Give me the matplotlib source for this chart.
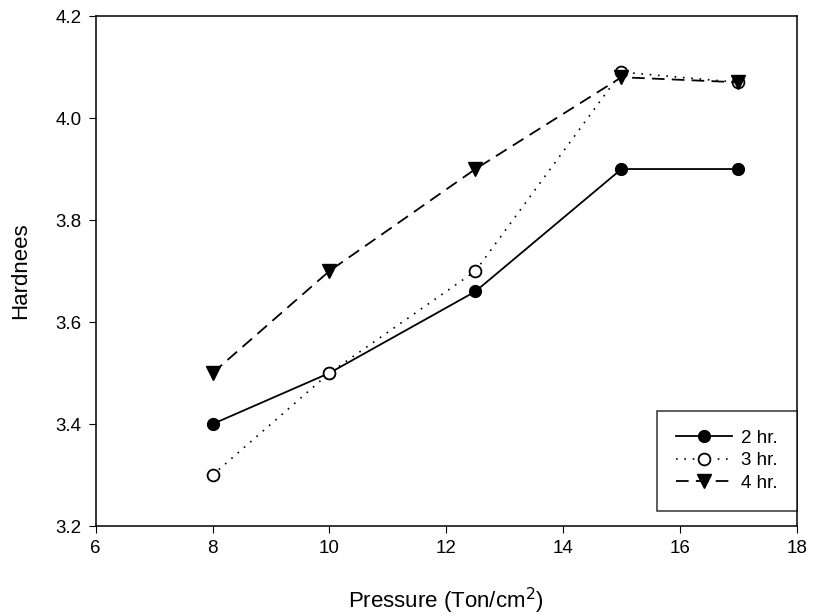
import matplotlib.pyplot as plt

plt.rcParams['font.family'] = ['Liberation Sans', 'DejaVu Sans']

pressure = [8, 10, 12.5, 15, 17]
hr2 = [3.40, 3.50, 3.66, 3.90, 3.90]
hr3 = [3.30, 3.50, 3.70, 4.09, 4.07]
hr4 = [3.50, 3.70, 3.90, 4.08, 4.07]

fig = plt.figure(figsize=(8.18, 6.16), dpi=100)
ax = fig.add_axes([0.117, 0.146, 0.857, 0.828])

ax.plot(pressure, hr2, color='black', linestyle='-', linewidth=1.3,
        marker='o', markersize=8.5, label='2 hr.')
ax.plot(pressure, hr3, color='black', linestyle=(0, (1, 4)), linewidth=1.2,
        marker='o', markersize=8.5, markerfacecolor='white',
        markeredgewidth=1.3, label='3 hr.')
ax.plot(pressure, hr4, color='black', linestyle=(0, (7, 4)), linewidth=1.3,
        marker='v', markersize=9.5, label='4 hr.')

ax.set_xlim(6, 18)
ax.set_ylim(3.2, 4.2)
ax.set_xticks([6, 8, 10, 12, 14, 16, 18])
ax.set_yticks([3.2, 3.4, 3.6, 3.8, 4.0, 4.2])
ax.set_yticklabels(['3.2', '3.4', '3.6', '3.8', '4.0', '4.2'])
ax.tick_params(direction='out', length=5, labelsize=13.5, pad=5)
for s in ax.spines.values():
    s.set_linewidth(1.1)

ax.set_xlabel('Pressure (Ton/cm$^2$)', fontsize=16, labelpad=21)
ax.set_ylabel('Hardnees', fontsize=16, labelpad=18)

leg = ax.legend(loc='lower right', bbox_to_anchor=(1.0, 0.03), fontsize=13.5,
                frameon=True, fancybox=False, edgecolor='black',
                handlelength=3.0, handletextpad=0.5, borderpad=1.0,
                labelspacing=0.3, borderaxespad=0.0)
leg.get_frame().set_linewidth(1.1)

fig.savefig('out.png', dpi=100)
